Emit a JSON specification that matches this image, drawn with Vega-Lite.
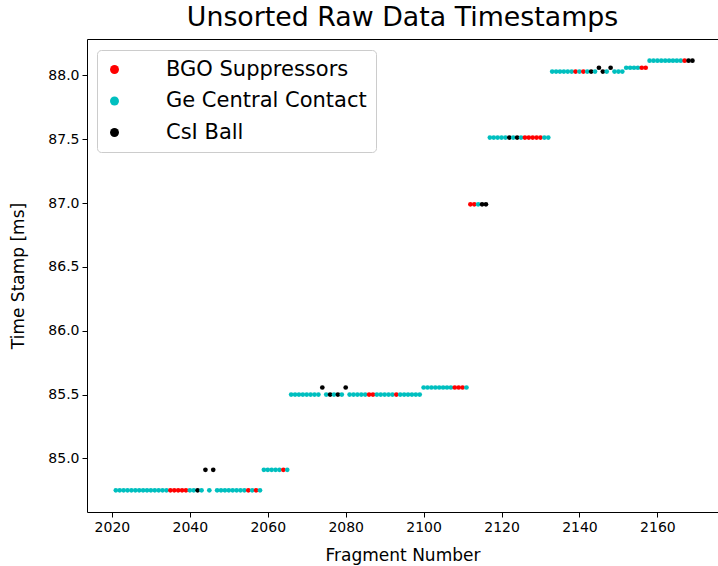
{
  "$schema": "https://vega.github.io/schema/vega-lite/v6.json",
  "width": 631,
  "height": 473,
  "autosize": "none",
  "padding": {"left": 87, "top": 39, "right": 0, "bottom": 54},
  "background": "white",
  "title": {
    "text": "Unsorted Raw Data Timestamps",
    "font": "DejaVu Sans",
    "fontSize": 26.8,
    "fontWeight": "normal",
    "color": "black",
    "anchor": "middle",
    "offset": 7
  },
  "config": {
    "view": {"stroke": null},
    "axis": {
      "grid": false,
      "domainColor": "black",
      "domainWidth": 1,
      "tickColor": "black",
      "tickSize": 5,
      "labelFont": "DejaVu Sans",
      "labelFontSize": 14,
      "labelColor": "black",
      "labelPadding": 3,
      "titleFont": "DejaVu Sans",
      "titleFontSize": 17,
      "titleFontWeight": "normal",
      "titleColor": "black"
    }
  },
  "data": {
    "values": [
      {"frag": 2021, "ts": 84.75, "det": "Ge Central Contact"},
      {"frag": 2022, "ts": 84.75, "det": "Ge Central Contact"},
      {"frag": 2023, "ts": 84.75, "det": "Ge Central Contact"},
      {"frag": 2024, "ts": 84.75, "det": "Ge Central Contact"},
      {"frag": 2025, "ts": 84.75, "det": "Ge Central Contact"},
      {"frag": 2026, "ts": 84.75, "det": "Ge Central Contact"},
      {"frag": 2027, "ts": 84.75, "det": "Ge Central Contact"},
      {"frag": 2028, "ts": 84.75, "det": "Ge Central Contact"},
      {"frag": 2029, "ts": 84.75, "det": "Ge Central Contact"},
      {"frag": 2030, "ts": 84.75, "det": "Ge Central Contact"},
      {"frag": 2031, "ts": 84.75, "det": "Ge Central Contact"},
      {"frag": 2032, "ts": 84.75, "det": "Ge Central Contact"},
      {"frag": 2033, "ts": 84.75, "det": "Ge Central Contact"},
      {"frag": 2034, "ts": 84.75, "det": "Ge Central Contact"},
      {"frag": 2035, "ts": 84.75, "det": "BGO Suppressors"},
      {"frag": 2036, "ts": 84.75, "det": "BGO Suppressors"},
      {"frag": 2037, "ts": 84.75, "det": "BGO Suppressors"},
      {"frag": 2038, "ts": 84.75, "det": "BGO Suppressors"},
      {"frag": 2039, "ts": 84.75, "det": "BGO Suppressors"},
      {"frag": 2040, "ts": 84.75, "det": "Ge Central Contact"},
      {"frag": 2041, "ts": 84.75, "det": "Ge Central Contact"},
      {"frag": 2042, "ts": 84.75, "det": "CsI Ball"},
      {"frag": 2043, "ts": 84.75, "det": "Ge Central Contact"},
      {"frag": 2044, "ts": 84.91, "det": "CsI Ball"},
      {"frag": 2045, "ts": 84.75, "det": "Ge Central Contact"},
      {"frag": 2046, "ts": 84.91, "det": "CsI Ball"},
      {"frag": 2047, "ts": 84.75, "det": "Ge Central Contact"},
      {"frag": 2048, "ts": 84.75, "det": "Ge Central Contact"},
      {"frag": 2049, "ts": 84.75, "det": "Ge Central Contact"},
      {"frag": 2050, "ts": 84.75, "det": "Ge Central Contact"},
      {"frag": 2051, "ts": 84.75, "det": "Ge Central Contact"},
      {"frag": 2052, "ts": 84.75, "det": "Ge Central Contact"},
      {"frag": 2053, "ts": 84.75, "det": "Ge Central Contact"},
      {"frag": 2054, "ts": 84.75, "det": "Ge Central Contact"},
      {"frag": 2055, "ts": 84.75, "det": "BGO Suppressors"},
      {"frag": 2056, "ts": 84.75, "det": "Ge Central Contact"},
      {"frag": 2057, "ts": 84.75, "det": "BGO Suppressors"},
      {"frag": 2058, "ts": 84.75, "det": "Ge Central Contact"},
      {"frag": 2059, "ts": 84.91, "det": "Ge Central Contact"},
      {"frag": 2060, "ts": 84.91, "det": "Ge Central Contact"},
      {"frag": 2061, "ts": 84.91, "det": "Ge Central Contact"},
      {"frag": 2062, "ts": 84.91, "det": "Ge Central Contact"},
      {"frag": 2063, "ts": 84.91, "det": "Ge Central Contact"},
      {"frag": 2064, "ts": 84.91, "det": "BGO Suppressors"},
      {"frag": 2065, "ts": 84.91, "det": "Ge Central Contact"},
      {"frag": 2066, "ts": 85.5, "det": "Ge Central Contact"},
      {"frag": 2067, "ts": 85.5, "det": "Ge Central Contact"},
      {"frag": 2068, "ts": 85.5, "det": "Ge Central Contact"},
      {"frag": 2069, "ts": 85.5, "det": "Ge Central Contact"},
      {"frag": 2070, "ts": 85.5, "det": "Ge Central Contact"},
      {"frag": 2071, "ts": 85.5, "det": "Ge Central Contact"},
      {"frag": 2072, "ts": 85.5, "det": "Ge Central Contact"},
      {"frag": 2073, "ts": 85.5, "det": "Ge Central Contact"},
      {"frag": 2074, "ts": 85.555, "det": "CsI Ball"},
      {"frag": 2075, "ts": 85.5, "det": "Ge Central Contact"},
      {"frag": 2076, "ts": 85.5, "det": "CsI Ball"},
      {"frag": 2077, "ts": 85.5, "det": "Ge Central Contact"},
      {"frag": 2078, "ts": 85.5, "det": "CsI Ball"},
      {"frag": 2079, "ts": 85.5, "det": "Ge Central Contact"},
      {"frag": 2080, "ts": 85.555, "det": "CsI Ball"},
      {"frag": 2081, "ts": 85.5, "det": "Ge Central Contact"},
      {"frag": 2082, "ts": 85.5, "det": "Ge Central Contact"},
      {"frag": 2083, "ts": 85.5, "det": "Ge Central Contact"},
      {"frag": 2084, "ts": 85.5, "det": "Ge Central Contact"},
      {"frag": 2085, "ts": 85.5, "det": "Ge Central Contact"},
      {"frag": 2086, "ts": 85.5, "det": "BGO Suppressors"},
      {"frag": 2087, "ts": 85.5, "det": "BGO Suppressors"},
      {"frag": 2088, "ts": 85.5, "det": "Ge Central Contact"},
      {"frag": 2089, "ts": 85.5, "det": "Ge Central Contact"},
      {"frag": 2090, "ts": 85.5, "det": "Ge Central Contact"},
      {"frag": 2091, "ts": 85.5, "det": "Ge Central Contact"},
      {"frag": 2092, "ts": 85.5, "det": "Ge Central Contact"},
      {"frag": 2093, "ts": 85.5, "det": "BGO Suppressors"},
      {"frag": 2094, "ts": 85.5, "det": "Ge Central Contact"},
      {"frag": 2095, "ts": 85.5, "det": "Ge Central Contact"},
      {"frag": 2096, "ts": 85.5, "det": "Ge Central Contact"},
      {"frag": 2097, "ts": 85.5, "det": "Ge Central Contact"},
      {"frag": 2098, "ts": 85.5, "det": "Ge Central Contact"},
      {"frag": 2099, "ts": 85.5, "det": "Ge Central Contact"},
      {"frag": 2100, "ts": 85.555, "det": "Ge Central Contact"},
      {"frag": 2101, "ts": 85.555, "det": "Ge Central Contact"},
      {"frag": 2102, "ts": 85.555, "det": "Ge Central Contact"},
      {"frag": 2103, "ts": 85.555, "det": "Ge Central Contact"},
      {"frag": 2104, "ts": 85.555, "det": "Ge Central Contact"},
      {"frag": 2105, "ts": 85.555, "det": "Ge Central Contact"},
      {"frag": 2106, "ts": 85.555, "det": "Ge Central Contact"},
      {"frag": 2107, "ts": 85.555, "det": "Ge Central Contact"},
      {"frag": 2108, "ts": 85.555, "det": "BGO Suppressors"},
      {"frag": 2109, "ts": 85.555, "det": "BGO Suppressors"},
      {"frag": 2110, "ts": 85.555, "det": "BGO Suppressors"},
      {"frag": 2111, "ts": 85.555, "det": "Ge Central Contact"},
      {"frag": 2112, "ts": 86.99, "det": "BGO Suppressors"},
      {"frag": 2113, "ts": 86.99, "det": "BGO Suppressors"},
      {"frag": 2114, "ts": 86.99, "det": "Ge Central Contact"},
      {"frag": 2115, "ts": 86.99, "det": "CsI Ball"},
      {"frag": 2116, "ts": 86.99, "det": "CsI Ball"},
      {"frag": 2117, "ts": 87.513, "det": "Ge Central Contact"},
      {"frag": 2118, "ts": 87.513, "det": "Ge Central Contact"},
      {"frag": 2119, "ts": 87.513, "det": "Ge Central Contact"},
      {"frag": 2120, "ts": 87.513, "det": "Ge Central Contact"},
      {"frag": 2121, "ts": 87.513, "det": "Ge Central Contact"},
      {"frag": 2122, "ts": 87.513, "det": "CsI Ball"},
      {"frag": 2123, "ts": 87.513, "det": "Ge Central Contact"},
      {"frag": 2124, "ts": 87.513, "det": "CsI Ball"},
      {"frag": 2125, "ts": 87.513, "det": "Ge Central Contact"},
      {"frag": 2126, "ts": 87.513, "det": "BGO Suppressors"},
      {"frag": 2127, "ts": 87.513, "det": "BGO Suppressors"},
      {"frag": 2128, "ts": 87.513, "det": "BGO Suppressors"},
      {"frag": 2129, "ts": 87.513, "det": "BGO Suppressors"},
      {"frag": 2130, "ts": 87.513, "det": "BGO Suppressors"},
      {"frag": 2131, "ts": 87.513, "det": "Ge Central Contact"},
      {"frag": 2132, "ts": 87.513, "det": "Ge Central Contact"},
      {"frag": 2133, "ts": 88.03, "det": "Ge Central Contact"},
      {"frag": 2134, "ts": 88.03, "det": "Ge Central Contact"},
      {"frag": 2135, "ts": 88.03, "det": "Ge Central Contact"},
      {"frag": 2136, "ts": 88.03, "det": "Ge Central Contact"},
      {"frag": 2137, "ts": 88.03, "det": "Ge Central Contact"},
      {"frag": 2138, "ts": 88.03, "det": "Ge Central Contact"},
      {"frag": 2139, "ts": 88.03, "det": "BGO Suppressors"},
      {"frag": 2140, "ts": 88.03, "det": "Ge Central Contact"},
      {"frag": 2141, "ts": 88.03, "det": "BGO Suppressors"},
      {"frag": 2142, "ts": 88.03, "det": "Ge Central Contact"},
      {"frag": 2143, "ts": 88.03, "det": "CsI Ball"},
      {"frag": 2144, "ts": 88.03, "det": "Ge Central Contact"},
      {"frag": 2145, "ts": 88.06, "det": "CsI Ball"},
      {"frag": 2146, "ts": 88.03, "det": "CsI Ball"},
      {"frag": 2147, "ts": 88.03, "det": "Ge Central Contact"},
      {"frag": 2148, "ts": 88.06, "det": "CsI Ball"},
      {"frag": 2149, "ts": 88.03, "det": "Ge Central Contact"},
      {"frag": 2150, "ts": 88.03, "det": "Ge Central Contact"},
      {"frag": 2151, "ts": 88.03, "det": "Ge Central Contact"},
      {"frag": 2152, "ts": 88.06, "det": "Ge Central Contact"},
      {"frag": 2153, "ts": 88.06, "det": "Ge Central Contact"},
      {"frag": 2154, "ts": 88.06, "det": "Ge Central Contact"},
      {"frag": 2155, "ts": 88.06, "det": "Ge Central Contact"},
      {"frag": 2156, "ts": 88.06, "det": "BGO Suppressors"},
      {"frag": 2157, "ts": 88.06, "det": "BGO Suppressors"},
      {"frag": 2158, "ts": 88.115, "det": "Ge Central Contact"},
      {"frag": 2159, "ts": 88.115, "det": "Ge Central Contact"},
      {"frag": 2160, "ts": 88.115, "det": "Ge Central Contact"},
      {"frag": 2161, "ts": 88.115, "det": "Ge Central Contact"},
      {"frag": 2162, "ts": 88.115, "det": "Ge Central Contact"},
      {"frag": 2163, "ts": 88.115, "det": "Ge Central Contact"},
      {"frag": 2164, "ts": 88.115, "det": "Ge Central Contact"},
      {"frag": 2165, "ts": 88.115, "det": "Ge Central Contact"},
      {"frag": 2166, "ts": 88.115, "det": "Ge Central Contact"},
      {"frag": 2167, "ts": 88.115, "det": "BGO Suppressors"},
      {"frag": 2168, "ts": 88.115, "det": "CsI Ball"},
      {"frag": 2169, "ts": 88.115, "det": "CsI Ball"}
    ]
  },
  "layer": [
    {
      "mark": {"type": "point", "filled": true, "opacity": 1, "size": 22, "strokeWidth": 0},
      "encoding": {
        "x": {
          "field": "frag",
          "type": "quantitative",
          "scale": {"domain": [2013.6, 2175.56], "nice": false, "zero": false},
          "axis": {"orient": "bottom", "values": [2020, 2040, 2060, 2080, 2100, 2120, 2140, 2160], "format": "d", "title": "Fragment Number", "titlePadding": 13}
        },
        "y": {
          "field": "ts",
          "type": "quantitative",
          "scale": {"domain": [84.58, 88.285], "nice": false, "zero": false},
          "axis": {"orient": "left", "values": [85.0, 85.5, 86.0, 86.5, 87.0, 87.5, 88.0], "format": ".1f", "title": "Time Stamp [ms]", "titlePadding": 20}
        },
        "color": {
          "field": "det",
          "type": "nominal",
          "scale": {
            "domain": ["BGO Suppressors", "Ge Central Contact", "CsI Ball"],
            "range": ["#ff0000", "#00bfbf", "#000000"]
          },
          "legend": {
            "orient": "none",
            "legendX": 10,
            "legendY": 11,
            "title": null,
            "labelFont": "DejaVu Sans",
            "labelFontSize": 21,
            "labelColor": "black",
            "labelLimit": 0,
            "symbolType": "circle",
            "symbolSize": 80,
            "symbolStrokeWidth": 0,
            "symbolOffset": -2,
            "labelOffset": 41,
            "rowPadding": 9.5,
            "padding": 9,
            "strokeColor": "#cccccc",
            "fillColor": "white",
            "cornerRadius": 4
          }
        }
      }
    },
    {
      "mark": {"type": "point", "opacity": 0},
      "encoding": {
        "x": {
          "field": "frag",
          "type": "quantitative",
          "axis": {"orient": "top", "labels": false, "ticks": false, "title": null}
        },
        "y": {"field": "ts", "type": "quantitative"}
      }
    }
  ],
  "resolve": {"axis": {"x": "independent"}}
}
